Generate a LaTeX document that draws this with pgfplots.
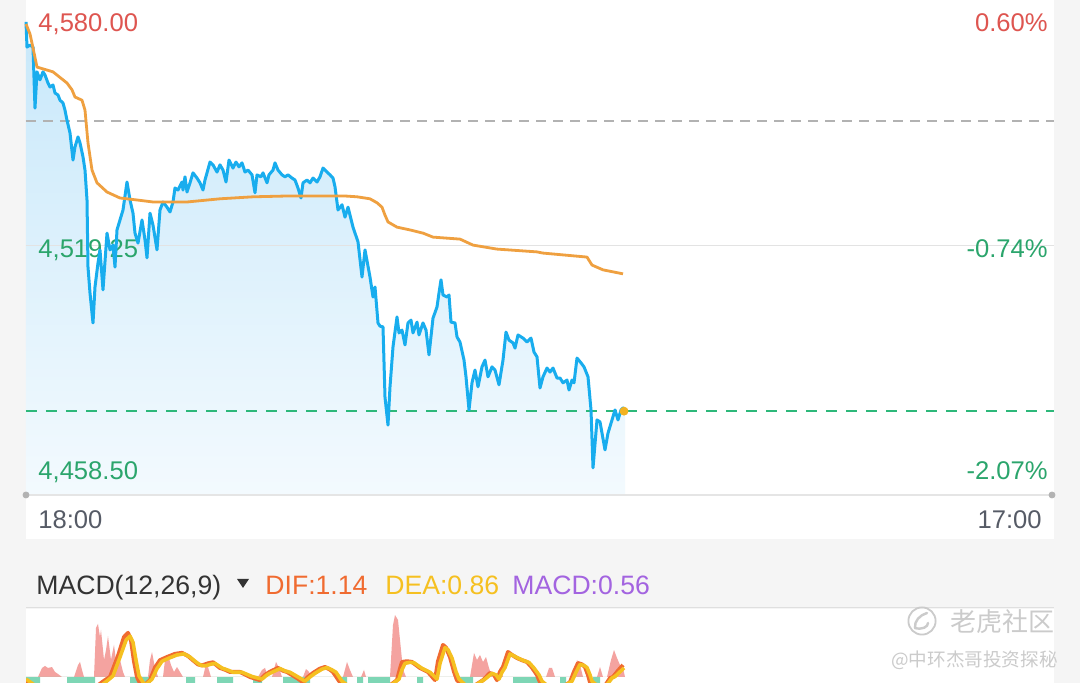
\documentclass[border=0pt]{standalone}
\usepackage{fontspec}
\setmainfont{Liberation Sans}
\newfontfamily\cjk{Noto Sans CJK SC}
\usepackage{pgfplots}
\pgfplotsset{compat=1.18}
\usepackage{pgfplotstable}

\definecolor{bg}{HTML}{F5F5F5}
\definecolor{upred}{HTML}{DE5550}
\definecolor{dngreen}{HTML}{2BA56C}
\definecolor{dashgreen}{HTML}{2DB87A}
\definecolor{axgray}{HTML}{565B66}
\definecolor{pxblue}{HTML}{18ADEE}
\definecolor{avgorange}{HTML}{EFA040}
\definecolor{dotorange}{HTML}{F2B220}
\definecolor{dif}{HTML}{F06B30}
\definecolor{dea}{HTML}{F5C020}
\definecolor{macdpurple}{HTML}{A364E0}
\definecolor{histred}{HTML}{F4A3A0}
\definecolor{histgreen}{HTML}{7ED6B5}
\definecolor{wm}{HTML}{CBCBCB}

% intraday price, x = time position (18:00 = 26, 17:00 = 1054)
\pgfplotstableread{
x p
26 4577.0
27 4570.7
30 4571.2
33 4570.7
35 4555.4
37 4564.5
40 4562.5
43 4564.5
45 4563.7
48 4561.7
50 4560.7
53 4561.2
55 4559.2
58 4558.7
60 4557.4
63 4556.7
65 4554.9
67 4552.4
70 4549.2
73 4542.4
75 4545.7
78 4548.2
80 4546.7
83 4543.2
85 4539.9
87 4532.4
88 4515.6
90 4509.1
93 4501.6
95 4510.6
98 4516.6
100 4519.9
103 4509.9
107 4524.1
110 4519.9
113 4521.1
115 4515.6
117 4524.9
120 4527.4
123 4529.9
127 4536.9
130 4532.4
133 4529.1
135 4524.1
138 4521.6
142 4527.4
145 4522.4
147 4517.9
150 4529.1
153 4526.1
157 4519.9
160 4529.9
163 4531.9
167 4530.6
170 4529.4
173 4531.9
175 4535.4
178 4534.9
182 4536.9
183 4534.9
185 4538.2
187 4534.4
190 4536.7
193 4539.2
197 4537.9
200 4536.7
203 4534.9
205 4537.4
210 4541.9
213 4541.2
217 4539.4
220 4541.2
223 4539.9
226 4536.9
229 4542.4
233 4540.4
236 4541.9
239 4540.7
242 4541.7
245 4539.4
248 4539.9
252 4538.7
255 4534.2
257 4538.7
261 4538.2
263 4539.2
267 4536.7
269 4538.7
273 4539.9
275 4541.7
278 4539.9
282 4538.7
285 4538.2
288 4538.7
292 4537.9
295 4537.4
298 4535.4
301 4532.9
303 4536.7
307 4537.4
310 4536.7
313 4537.9
317 4536.9
320 4538.2
323 4540.4
327 4539.4
330 4538.7
333 4537.9
335 4535.7
338 4529.9
342 4531.2
345 4528.1
348 4530.6
353 4525.6
358 4521.9
362 4513.1
365 4519.9
370 4513.1
373 4508.1
375 4510.6
378 4501.6
380 4500.8
383 4500.6
385 4483.0
388 4476.0
390 4485.6
393 4495.6
397 4503.1
399 4499.1
402 4499.8
405 4496.1
408 4501.6
411 4502.3
413 4499.1
417 4501.8
419 4498.6
423 4501.6
426 4499.8
429 4493.6
433 4502.8
437 4505.6
439 4509.1
441 4512.4
443 4508.6
447 4508.1
449 4508.6
451 4501.8
455 4501.6
457 4498.1
460 4496.8
464 4492.3
466 4488.1
469 4479.8
472 4486.6
475 4489.8
478 4485.6
482 4490.6
485 4492.3
488 4488.1
492 4490.6
495 4489.8
499 4486.1
503 4492.3
506 4499.3
509 4497.3
513 4496.6
515 4495.3
518 4498.6
523 4497.8
527 4496.8
531 4497.8
534 4494.3
537 4493.1
540 4485.3
543 4488.1
547 4490.3
550 4489.3
553 4490.3
557 4487.8
560 4487.8
563 4486.6
567 4487.3
569 4484.8
572 4487.3
574 4486.6
577 4492.8
581 4491.6
584 4490.6
588 4488.1
591 4479.8
593 4465.3
597 4477.3
600 4476.8
605 4469.8
608 4474.0
612 4477.3
615 4479.8
618 4477.3
621 4479.8
623 4480.3
625 4479.5
}\price

% average price
\pgfplotstableread{
x p
26 4576.5
30 4574.0
33 4570.5
37 4565.7
53 4564.5
67 4561.7
72 4560.0
75 4558.2
82 4557.4
85 4554.9
88 4546.7
92 4539.9
97 4536.7
107 4534.4
120 4532.9
137 4532.4
153 4531.9
187 4531.9
220 4532.7
253 4533.2
287 4533.4
320 4533.4
345 4533.4
357 4533.2
370 4532.7
377 4531.7
382 4530.6
385 4528.6
388 4526.9
397 4525.6
410 4524.9
423 4524.1
433 4523.1
460 4522.6
473 4521.1
497 4520.1
537 4519.4
543 4519.1
587 4518.1
592 4516.1
603 4514.9
613 4514.4
623 4513.9
}\avgprice

\begin{document}
\begin{tikzpicture}
% backgrounds (1 px = 0.5 pt)
\fill[bg] (0,0) rectangle (540pt,341.5pt);
\fill[white] (13pt,72pt) rectangle (527pt,341.5pt);
\fill[white] (13pt,0pt) rectangle (527pt,37pt);
\draw[gray!25, line width=0.5pt] (13pt,37.5pt) -- (527pt,37.5pt);

\begin{axis}[at={(13pt,94pt)}, anchor=south west, scale only axis,
  width=514pt, height=242.5pt,
  xmin=26, xmax=1054, ymin=4458.5, ymax=4580,
  hide axis, clip=false]
\addplot[draw=none, top color={rgb,255:red,200;green,232;blue,250},
  bottom color={rgb,255:red,243;green,250;blue,254}]
  table[x=x,y=p]{\price} \closedcycle;
\addplot[gray!22, line width=0.6pt] coordinates {(26,4521.1) (1054,4521.1)};
\addplot[gray!20, line width=0.8pt] coordinates {(26,4458.5) (1052,4458.5)};
\addplot[only marks, mark=*, mark size=1.5pt, color=gray!60]
  coordinates {(26,4458.5) (1052,4458.5)};
\addplot[gray!60, line width=1pt, dash pattern=on 5pt off 3.5pt]
  coordinates {(26,4552.1) (1054,4552.1)};
\addplot[dashgreen, line width=1.3pt, dash pattern=on 5.5pt off 4.5pt]
  coordinates {(26,4479.5) (1054,4479.5)};

\node[anchor=base west, inner sep=0pt, upred, font=\fontsize{12.8}{15}\selectfont] at (axis cs:38,4574.7) {4,580.00};
\node[anchor=base east, inner sep=0pt, upred, font=\fontsize{12.8}{15}\selectfont] at (axis cs:1048,4574.7) {0.60\%};
\node[anchor=base west, inner sep=0pt, dngreen, font=\fontsize{12.8}{15}\selectfont] at (axis cs:38,4518.1) {4,519.25};
\node[anchor=base east, inner sep=0pt, dngreen, font=\fontsize{12.8}{15}\selectfont] at (axis cs:1048,4518.1) {-0.74\%};
\node[anchor=base west, inner sep=0pt, dngreen, font=\fontsize{12.8}{15}\selectfont] at (axis cs:38,4462.3) {4,458.50};
\node[anchor=base east, inner sep=0pt, dngreen, font=\fontsize{12.8}{15}\selectfont] at (axis cs:1048,4462.3) {-2.07\%};
\node[anchor=base west, inner sep=0pt, axgray, font=\fontsize{12.8}{15}\selectfont] at (axis cs:38,4450.0) {18:00};
\node[anchor=base east, inner sep=0pt, axgray, font=\fontsize{12.8}{15}\selectfont] at (axis cs:1042,4450.0) {17:00};

\addplot[pxblue, line width=1.5pt, line join=round] table[x=x,y=p]{\price};
\addplot[avgorange, line width=1.4pt, line join=round] table[x=x,y=p]{\avgprice};
\addplot[only marks, mark=*, mark size=2pt, color=dotorange]
  coordinates {(624,4479.5)};
\end{axis}

% MACD header
\node[anchor=base west, inner sep=0pt, black!80, font=\fontsize{13.3}{15}\selectfont] at (18pt,44pt) {MACD(12,26,9)};
\fill[black!80] (118.5pt,52pt) -- (124.5pt,52pt) -- (121.5pt,47.5pt) -- cycle;
\node[anchor=base west, inner sep=0pt, dif, font=\fontsize{13.3}{15}\selectfont] at (132.5pt,44pt) {DIF:1.14};
\node[anchor=base west, inner sep=0pt, dea, font=\fontsize{13.3}{15}\selectfont] at (192.5pt,44pt) {DEA:0.86};
\node[anchor=base west, inner sep=0pt, macdpurple, font=\fontsize{13.3}{15}\selectfont] at (256pt,44pt) {MACD:0.56};

\begin{axis}[at={(13pt,0pt)}, anchor=south west, scale only axis,
  width=514pt, height=37pt,
  xmin=26, xmax=1054, ymin=-0.571, ymax=6.476,
  hide axis]
\addplot[draw=none, fill=histred] coordinates {
(26,0)(38,0)(42,0.86)(45,1.05)(48,0.86)(52,0.95)(55,0.48)(58,0.29)(62,0)
(74,0)(78,1.14)(80,1.43)(82,0.67)(84,0)(94,0)(96,4.67)(98,5.05)(100,3.81)
(101,4.48)(104,1.62)(106,2.57)(108,3.90)(111,1.62)(114,3.05)(117,0.86)
(120,1.62)(123,0.48)(125,0)(148,0)(150,1.62)(152,2.38)(155,0.86)(158,0)
(163,0)(165,1.62)(168,2.10)(171,1.14)(174,0.48)(177,0.95)(180,0.48)(183,0)
(203,0)(206,1.24)(208,0.95)(211,0)(258,0)(262,0.67)(265,0.86)(268,0)
(272,0)(276,1.43)(279,0.86)(282,0)(303,0)(306,0.76)(309,0.48)(312,0)
(343,0)(347,1.43)(350,0.67)(353,0)(361,0)(364,0.67)(366,0)(390,0)
(393,4.95)(395,5.90)(398,5.43)(400,3.52)(402,1.62)(404,0.48)(406,0)
(470,0)(474,2.29)(477,1.62)(480,2.10)(483,1.43)(486,1.90)(489,0.86)(492,0)
(497,0)(500,0.86)(503,0)(546,0)(549,0.86)(552,0.86)(555,0)(574,0)
(577,1.62)(580,1.14)(583,0)(597,0)(600,0.95)(603,0)(607,0)(611,1.62)
(614,2.57)(617,1.81)(620,1.14)(623,0.86)(625,0)} \closedcycle;
\addplot[draw=none, fill=histgreen] coordinates {
(26,0)(26,-1)(40,-1)(40,0)(67,0)(67,-1)(95,-1)(95,0)(130,0)(130,-1)(150,-1)(150,0)
(186,0)(186,-1)(195,-1)(195,0)(217,0)(217,-1)(233,-1)(233,0)(253,0)(253,-1)(262,-1)(262,0)
(283,0)(283,-1)(310,-1)(310,0)(340,0)(340,-1)(347,-1)(347,0)(357,0)(357,-1)(363,-1)(363,0)
(368,0)(368,-1)(390,-1)(390,0)(417,0)(417,-1)(423,-1)(423,0)(457,0)(457,-1)(473,-1)(473,0)
(513,0)(513,-1)(540,-1)(540,0)(560,0)(560,-1)(566,-1)(566,0)(593,0)(593,-1)(600,-1)(600,0)} \closedcycle;
\addplot[dif, line width=2pt, line join=round] coordinates {
(26,-0.3)(32,-0.9)(45,-1.3)(70,-1.5)(95,-1.0)(105,-0.3)(110,0.0)(118,2.0)(124,3.8)
(128,4.2)(131,3.5)(134,1.5)(137,0.0)(142,-1.0)(150,-0.3)(155,0.9)(160,1.6)(167,1.9)
(175,2.2)(182,2.3)(188,2.0)(193,1.6)(198,1.2)(202,1.1)(208,1.3)(213,1.4)(220,0.86)
(225,0.7)(230,0.48)(240,0.48)(250,0.0)(260,-0.3)(265,0.2)(270,0.5)(278,0.86)(283,0.6)
(287,0.48)(297,-0.1)(303,-0.5)(308,0.0)(313,0.38)(320,0.8)(325,0.95)(330,0.7)(333,0.48)
(340,-0.5)(350,-1.2)(370,-1.5)(390,-0.8)(397,-0.3)(400,0.8)(402,1.43)(407,1.5)(412,1.43)
(420,0.86)(428,0.48)(435,-0.29)(438,1.5)(443,3.05)(446,2.8)(450,1.9)(454,0.5)(457,-0.3)
(465,-1.0)(475,-0.8)(483,-0.3)(490,0.38)(494,0.2)(497,-0.3)(500,0.5)(503,0.95)(508,2.38)
(512,2.1)(517,1.81)(522,1.6)(527,1.43)(532,0.9)(537,0.19)(540,-0.5)(550,-1.3)(565,-0.8)
(570,-0.5)(574,0.5)(578,1.33)(582,1.2)(585,0.95)(588,0.2)(590,-0.5)(600,-1.3)(606,-0.7)
(610,-0.1)(613,0.0)(618,0.6)(623,1.14)};
\addplot[dea, line width=1.8pt, line join=round] coordinates {
(26,-0.2)(35,-0.8)(50,-1.2)(75,-1.4)(100,-0.9)(108,-0.3)(113,0.1)(120,1.9)(126,3.5)
(130,3.9)(133,3.3)(136,1.6)(139,0.1)(145,-0.8)(152,-0.2)(157,0.8)(162,1.5)(169,1.8)
(177,2.1)(184,2.2)(190,1.9)(195,1.5)(200,1.15)(205,1.05)(210,1.2)(215,1.3)(222,0.85)
(228,0.65)(233,0.45)(242,0.45)(252,0.05)(262,-0.2)(267,0.2)(272,0.45)(280,0.8)(285,0.58)
(290,0.45)(299,-0.05)(305,-0.4)(310,0.0)(315,0.35)(322,0.75)(327,0.9)(332,0.68)(336,0.45)
(342,-0.4)(352,-1.1)(372,-1.4)(392,-0.7)(399,-0.2)(402,0.7)(405,1.3)(410,1.4)(414,1.35)
(422,0.82)(430,0.45)(437,-0.2)(440,1.3)(445,2.8)(448,2.6)(452,1.8)(456,0.5)(459,-0.2)
(467,-0.9)(477,-0.7)(485,-0.2)(492,0.35)(496,0.2)(499,-0.2)(502,0.45)(505,0.9)(510,2.2)
(514,2.0)(519,1.75)(524,1.55)(529,1.38)(534,0.85)(539,0.2)(542,-0.4)(552,-1.2)(567,-0.7)
(572,-0.4)(576,0.45)(580,1.2)(584,1.1)(587,0.9)(590,0.2)(592,-0.4)(602,-1.2)(608,-0.6)
(612,-0.1)(615,0.05)(620,0.5)(624,0.86)};
\end{axis}

% watermark
\draw[wm, line width=0.9pt] (461pt,31pt) circle (6.8pt);
\draw[wm, line width=1.2pt, line cap=round] (457.5pt,27.5pt) .. controls (457pt,31pt) and (460pt,34pt) .. (463.5pt,35pt);
\draw[wm, line width=1.2pt, line cap=round] (457.5pt,27.5pt) .. controls (461pt,26.5pt) and (464pt,28pt) .. (464pt,30pt);
\node[anchor=base west, inner sep=0pt, wm, font=\cjk\fontsize{13}{15}\selectfont] at (475pt,25.5pt) {老虎社区};
\node[anchor=base east, inner sep=0pt, wm, font=\cjk\fontsize{9.3}{11}\selectfont] at (529pt,8pt) {@中环杰哥投资探秘};

\pgfresetboundingbox
\path (0,0) rectangle (540pt,341.5pt);
\end{tikzpicture}
\end{document}
